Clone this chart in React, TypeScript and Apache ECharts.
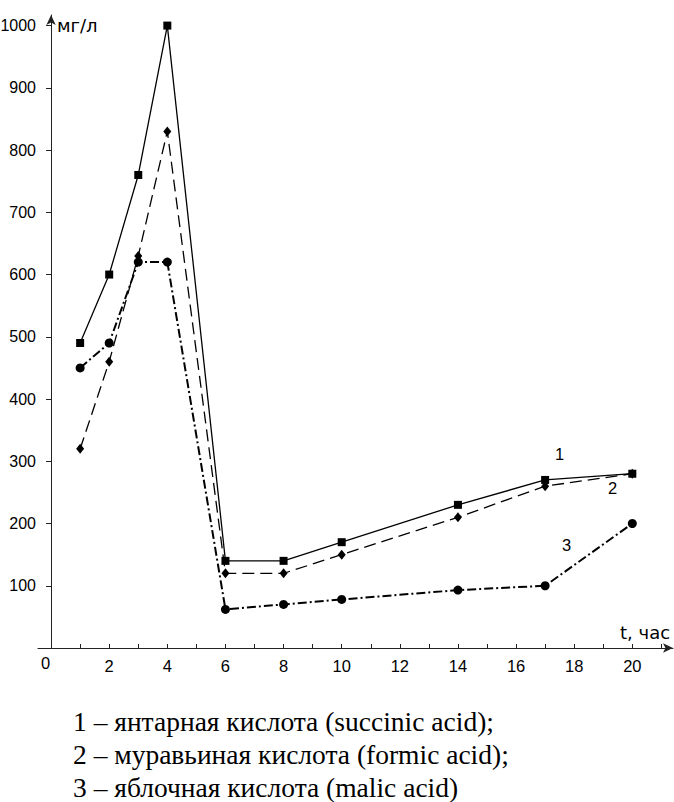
import React, { useEffect, useRef } from "react";
import * as echarts from "echarts";

const hours = [1, 2, 3, 4, 6, 8, 10, 14, 17, 20];
const succinic = [490, 600, 760, 1000, 140, 140, 170, 230, 270, 280];
const formic = [320, 460, 630, 830, 120, 120, 150, 210, 260, 280];
const malic = [450, 490, 620, 620, 62, 70, 78, 93, 100, 200];
const xTickValues = [1, 2, 3, 4, 5, 6, 7, 8, 9, 10, 11, 12, 13, 14, 15, 16, 17, 18, 19, 20, 21];
const xLabelValues = [2, 4, 6, 8, 10, 12, 14, 16, 18, 20];
const yTickValues = [100, 200, 300, 400, 500, 600, 700, 800, 900, 1000];
const legendLines = [
  "1 – янтарная кислота (succinic acid);",
  "2 – муравьиная кислота (formic acid);",
  "3 – яблочная кислота (malic acid)",
];

const pair = (vals: number[]) => hours.map((h, i) => [h, vals[i]]);

export default function App() {
  const ref = useRef<HTMLDivElement>(null);
  useEffect(() => {
    if (!ref.current) return;
    const chart = echarts.init(ref.current, undefined, { renderer: "svg" });
    const sans = "Liberation Sans, Arial, sans-serif";
    const wide = "DejaVu Sans, sans-serif";
    const serif = "Liberation Serif, Times New Roman, serif";
    const axisColor = "#222";
    chart.setOption({
      animation: false,
      backgroundColor: "#fff",
      grid: {
        left: 38,
        top: 15,
        width: 635,
        height: 633,
        containLabel: false,
        outerBoundsMode: "none",
      },
      xAxis: {
        type: "value",
        min: -0.45,
        max: 21.4,
        splitLine: { show: false },
        axisLine: {
          show: true,
          onZero: false,
          symbol: ["none", "arrow"],
          symbolSize: [7, 10],
          lineStyle: { color: axisColor, width: 1 },
        },
        axisTick: {
          show: true,
          inside: true,
          length: 4,
          customValues: xTickValues,
          lineStyle: { color: axisColor },
        },
        axisLabel: {
          customValues: xLabelValues,
          formatter: (v: number) => String(v),
          fontFamily: sans,
          fontSize: 16.5,
          color: "#000",
          margin: 9,
        },
      },
      yAxis: {
        type: "value",
        min: 0,
        max: 1017,
        splitLine: { show: false },
        axisLine: {
          show: true,
          onZero: true,
          symbol: ["none", "arrow"],
          symbolSize: [7, 10],
          lineStyle: { color: axisColor, width: 1 },
        },
        axisTick: {
          show: true,
          length: 5,
          customValues: yTickValues,
          lineStyle: { color: axisColor },
        },
        axisLabel: {
          customValues: yTickValues,
          formatter: (v: number) => String(v),
          fontFamily: sans,
          fontSize: 16,
          color: "#000",
          margin: 2,
        },
      },
      series: [
        {
          type: "line",
          data: pair(malic),
          symbol: "circle",
          symbolSize: 9,
          itemStyle: { color: "#000" },
          lineStyle: { color: "#000", width: 2, type: [9, 3, 2, 3] },
          z: 2,
        },
        {
          type: "line",
          data: pair(formic),
          symbol: "diamond",
          symbolSize: [8, 10],
          itemStyle: { color: "#000" },
          lineStyle: { color: "#000", width: 1.3, type: [12, 6] },
          z: 3,
        },
        {
          type: "line",
          data: pair(succinic),
          symbol: "rect",
          symbolSize: 8,
          itemStyle: { color: "#000" },
          lineStyle: { color: "#000", width: 1.3, type: "solid" },
          z: 4,
        },
      ],
      graphic: [
        { type: "text", x: 57, y: 25, style: { text: "мг/л", font: `18px ${wide}`, fill: "#000", textVerticalAlign: "middle" } },
        { type: "text", x: 620, y: 632, style: { text: "t, час", font: `18px ${wide}`, fill: "#000", textVerticalAlign: "middle" } },
        { type: "text", x: 41, y: 663, style: { text: "0", font: `16.5px ${sans}`, fill: "#000", textVerticalAlign: "middle" } },
        { type: "text", x: 555, y: 454, style: { text: "1", font: `16.5px ${sans}`, fill: "#000", textVerticalAlign: "middle" } },
        { type: "text", x: 608, y: 488, style: { text: "2", font: `16.5px ${sans}`, fill: "#000", textVerticalAlign: "middle" } },
        { type: "text", x: 562, y: 545, style: { text: "3", font: `16.5px ${sans}`, fill: "#000", textVerticalAlign: "middle" } },
        ...legendLines.map((t, i) => ({
          type: "text",
          x: 73,
          y: 721 + i * 33,
          style: { text: t, font: `27.5px ${serif}`, fill: "#000", textVerticalAlign: "middle" },
        })),
      ],
    });
    return () => chart.dispose();
  }, []);
  return (
    <div
      ref={ref}
      style={{ position: "fixed", left: 0, top: 0, width: 674, height: 802, background: "#fff" }}
    />
  );
}
